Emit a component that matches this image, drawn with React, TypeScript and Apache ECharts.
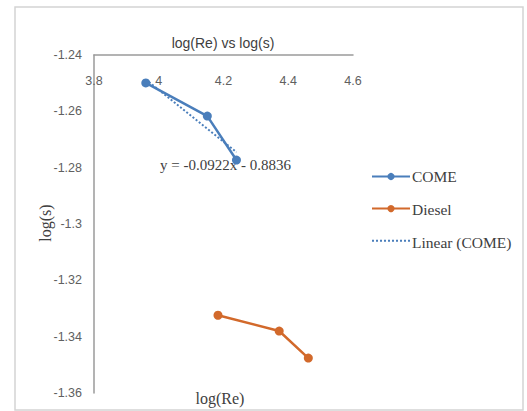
import React, { useEffect, useRef } from "react";
import * as echarts from "echarts";

const comeX = [3.96, 4.15, 4.24];
const comeY = [-1.2499, -1.2617, -1.2773];
const dieselX = [4.183, 4.372, 4.462];
const dieselY = [-1.3324, -1.338, -1.3476];
const trendX = [3.96, 4.24];
const trendY = [-1.2487, -1.2745];
const seriesNames = ["COME", "Diesel", "Linear (COME)"];
const titleText = "log(Re) vs log(s)";
const equationText = "y = -0.0922x - 0.8836";
const xName = "log(Re)";
const yName = "log(s)";

const zip = (xs: number[], ys: number[]) => xs.map((x, i) => [x, ys[i]]);

export default function App() {
  const ref = useRef<HTMLDivElement>(null);
  useEffect(() => {
    if (!ref.current) return;
    const chart = echarts.init(ref.current, undefined, { renderer: "svg" });
    const blue = "#4a7ebb";
    const orange = "#d2692b";
    const serif = "Liberation Serif";
    const sans = "Liberation Sans";
    const legendTop = 172;
    const legendStep = 33;
    chart.setOption({
      animation: false,
      backgroundColor: "#ffffff",
      grid: { left: 94, top: 55, width: 259, height: 338 },
      xAxis: {
        type: "value",
        position: "top",
        min: 3.8,
        max: 4.6,
        interval: 0.2,
        axisLine: { show: true, onZero: false, lineStyle: { color: "#9a9a9a", width: 1.5 } },
        axisTick: { show: false },
        splitLine: { show: false },
        axisLabel: { inside: true, margin: 19, color: "#606060", fontSize: 12.5, fontFamily: sans },
      },
      yAxis: {
        type: "value",
        min: -1.36,
        max: -1.24,
        interval: 0.02,
        axisLine: { show: true, onZero: false, lineStyle: { color: "#9a9a9a", width: 1.5 } },
        axisTick: { show: false },
        splitLine: { show: false },
        axisLabel: { margin: 12, color: "#606060", fontSize: 12.5, fontFamily: sans },
      },
      legend: {
        orient: "vertical",
        left: 371,
        top: legendTop,
        itemGap: legendStep - 9,
        itemWidth: 38,
        itemHeight: 9,
        padding: 0,
        formatter: () => "",
        data: [
          { name: seriesNames[0] },
          { name: seriesNames[1] },
          { name: seriesNames[2], itemStyle: { opacity: 0 } },
        ],
        textStyle: { fontSize: 1 },
      },
      series: [
        {
          name: seriesNames[0],
          type: "line",
          data: zip(comeX, comeY),
          color: blue,
          symbol: "circle",
          symbolSize: 9,
          lineStyle: { width: 2.5, color: blue },
          itemStyle: { color: blue },
        },
        {
          name: seriesNames[1],
          type: "line",
          data: zip(dieselX, dieselY),
          color: orange,
          symbol: "circle",
          symbolSize: 9,
          lineStyle: { width: 2.5, color: orange },
          itemStyle: { color: orange },
        },
        {
          name: seriesNames[2],
          type: "line",
          data: zip(trendX, trendY),
          color: blue,
          symbol: "none",
          lineStyle: { width: 2, color: blue, type: "dotted" },
        },
      ],
      graphic: [
        {
          type: "rect",
          shape: { x: 15, y: 7, width: 508, height: 403 },
          style: { fill: "none", stroke: "#d4d4d4", lineWidth: 1.5 },
          silent: true,
        },
        {
          type: "text",
          x: 223,
          y: 43,
          style: { text: titleText, align: "center", verticalAlign: "middle", fontSize: 14, fontFamily: sans, fill: "#404040" },
        },
        {
          type: "text",
          x: 160,
          y: 165,
          style: { text: equationText, align: "left", verticalAlign: "middle", fontSize: 15, fontFamily: serif, fill: "#404040" },
        },
        {
          type: "text",
          x: 45,
          y: 223,
          rotation: Math.PI / 2,
          style: { text: yName, align: "center", verticalAlign: "middle", fontSize: 16, fontFamily: serif, fill: "#404040" },
        },
        {
          type: "text",
          x: 220,
          y: 398,
          style: { text: xName, align: "center", verticalAlign: "middle", fontSize: 16, fontFamily: serif, fill: "#404040" },
        },
        ...seriesNames.map((name, i) => ({
          type: "text",
          x: 412,
          y: legendTop + 4.5 + i * legendStep,
          style: { text: name, align: "left", verticalAlign: "middle", fontSize: 15.5, fontFamily: serif, fill: "#404040" },
        })),
      ],
    });
    return () => chart.dispose();
  }, []);
  return <div ref={ref} style={{ position: "fixed", left: 0, top: 0, width: 527, height: 411 }} />;
}
